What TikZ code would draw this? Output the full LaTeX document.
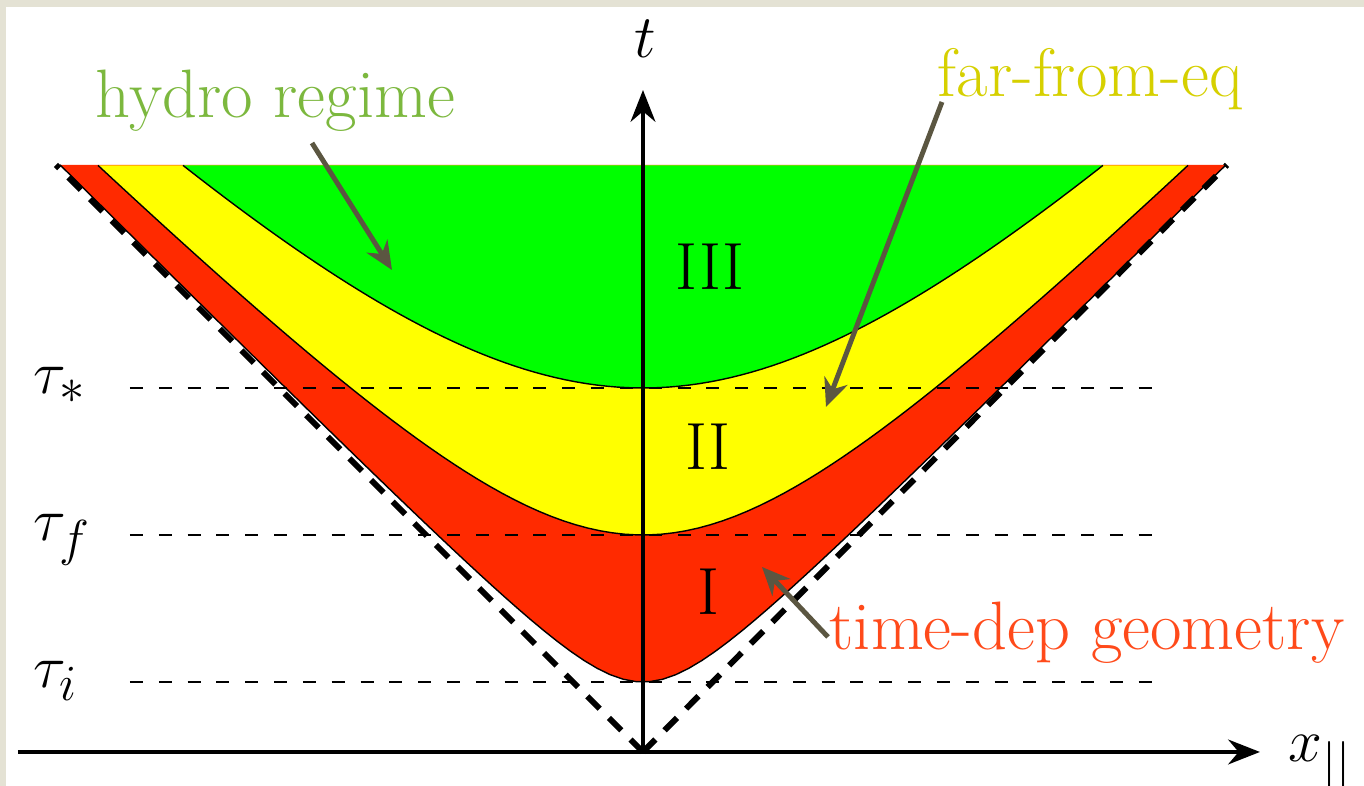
\documentclass[tikz,border=0pt]{standalone}
\usepackage{fontspec}
\usetikzlibrary{arrows.meta,positioning,calc}
\definecolor{lcbeige}{HTML}{E4E2D4}
\definecolor{lcred}{HTML}{FF2A00}
\definecolor{lcyellow}{HTML}{FFFF00}
\definecolor{lcgreen}{HTML}{00FF00}
\definecolor{txgreen}{HTML}{7CB83E}
\definecolor{txyellow}{HTML}{D6D000}
\definecolor{txred}{HTML}{FF4A1A}
\definecolor{arrgray}{HTML}{5B5641}

\begin{document}
\begin{tikzpicture}[
      big/.style={font=\fontsize{19}{23}\selectfont},
      lbl/.style={font=\rmfamily\fontsize{19.5}{24}\selectfont,anchor=base west},
      axis/.style={-{Stealth[length=9pt,width=7pt]},line width=1.4pt},
      cone/.style={line width=1.7pt,dash pattern=on 5pt off 3.7pt},
      level/.style={line width=0.4pt,dash pattern=on 3.7pt off 4.5pt},
      edge/.style={line width=0.4pt},
      pointer/.style={-{Stealth[length=8pt,width=7pt]},line width=1.4pt,draw=arrgray}]
    % frame
    \useasboundingbox (-6.43,-0.34) rectangle (7.21,7.52);
    \fill[lcbeige] (-6.43,-0.34) rectangle (7.21,7.52);
    \fill[white] (-6.37,-0.34) rectangle (7.21,7.45);
    % regions between hyperbolas t^2 - x^2 = tau^2
    \fill[lcred] plot[domain=-5.83:5.83,samples=90] (\x,{sqrt(0.70*0.70+\x*\x)}) -- cycle;
    \fill[lcyellow] plot[domain=-5.45:5.45,samples=90] (\x,{sqrt(2.17*2.17+\x*\x)}) -- cycle;
    \fill[lcgreen] plot[domain=-4.60:4.60,samples=90] (\x,{sqrt(3.64*3.64+\x*\x)}) -- cycle;
    \draw[edge] plot[domain=-5.83:5.83,samples=90] (\x,{sqrt(0.70*0.70+\x*\x)});
    \draw[edge] plot[domain=-5.45:5.45,samples=90] (\x,{sqrt(2.17*2.17+\x*\x)});
    \draw[edge] plot[domain=-4.60:4.60,samples=90] (\x,{sqrt(3.64*3.64+\x*\x)});
    % proper time levels
    \foreach \name/\lev/\sub in {taui/0.70/i,tauf/2.17/f,taus/3.64/*}{
      \draw[level] (-5.13,\lev) -- (5.12,\lev);
      \node[big,anchor=base west,inner sep=0pt] (\name) at (-6.10,\lev-0.06) {$\tau_{\sub}$};
    }
    % light cone
    \coordinate (O) at (0,0);
    \coordinate (coneL) at (-5.87,5.87);
    \coordinate (coneR) at (5.84,5.87);
    \draw[cone] (O) -- (coneL);
    \draw[cone] (O) -- (coneR);
    % axes
    \coordinate (xstart) at (-6.25,0);
    \coordinate (xend) at (6.17,0);
    \coordinate (tend) at (0,6.62);
    \draw[axis] (xstart) -- (xend);
    \draw[axis] (O) -- (tend);
    \node[big,anchor=base,inner sep=0pt] (tlab) at (0.02,6.94) {$t$};
    \node[big,anchor=base west,inner sep=0pt] (xlab) at (6.45,-0.10) {$x_{||}$};
    % stages
    \node[big] (stage3) at (0.67,4.85) {III};
    \node[big] (stage2) at (0.65,3.05) {II};
    \node[big] (stage1) at (0.65,1.60) {I};
    % regime labels
    \node[lbl,text=txgreen,inner sep=0pt] (hydro) at (-5.48,6.34) {hydro regime};
    \node[lbl,text=txyellow,inner sep=0pt] (far) at (2.94,6.55) {far-from-eq};
    \node[lbl,text=txred,inner sep=0pt] (geom) at (1.86,1.02) {time-dep geometry};
    \coordinate (hydrotail) at (-3.31,6.09);
    \coordinate (hydrotip) at (-2.51,4.82);
    \coordinate (fartail) at (2.99,6.50);
    \coordinate (fartip) at (1.83,3.45);
    \coordinate (geomtail) at (1.85,1.15);
    \coordinate (geomtip) at (1.19,1.85);
    \draw[pointer] (hydrotail) -- (hydrotip);
    \draw[pointer] (fartail) -- (fartip);
    \draw[pointer] (geomtail) -- (geomtip);
  \end{tikzpicture}
\end{document}
